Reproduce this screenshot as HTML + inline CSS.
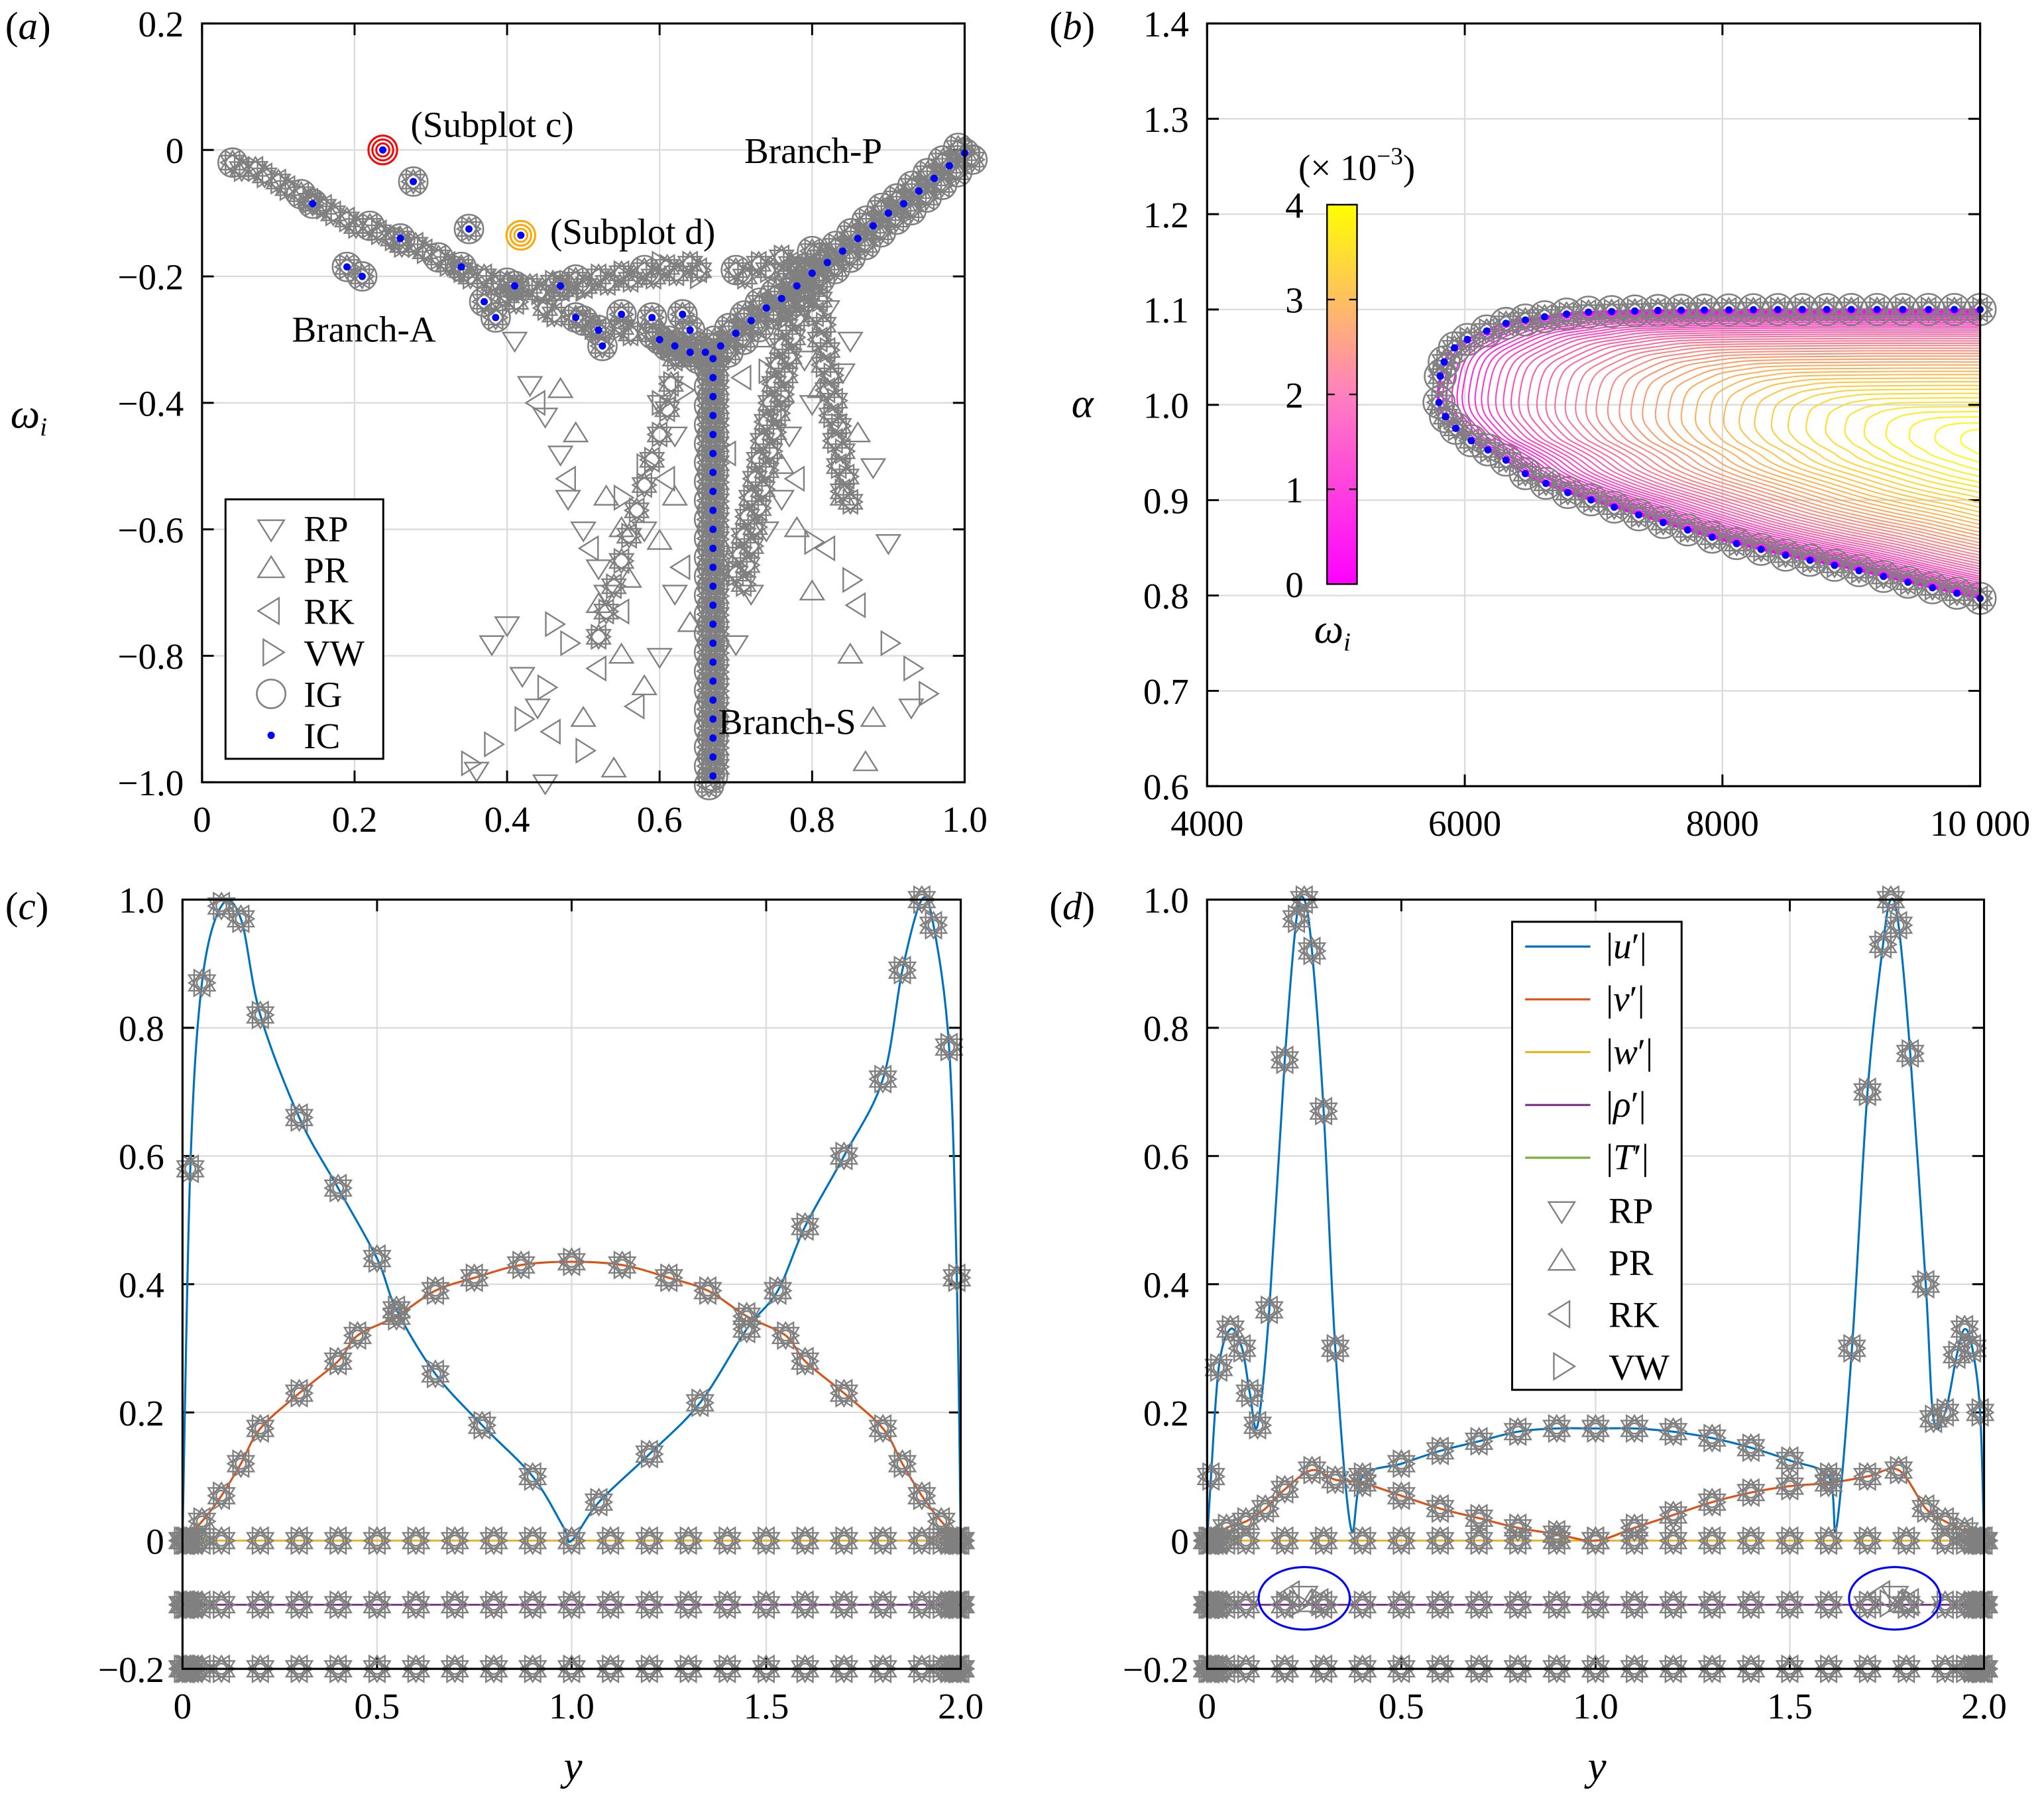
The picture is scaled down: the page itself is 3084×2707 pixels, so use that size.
<!DOCTYPE html>
<html><head><meta charset="utf-8">
<style>
html,body{margin:0;padding:0;background:#fff;}
svg{display:block;font-family:"Liberation Serif",serif;}
</style></head>
<body>
<svg id="fig" xmlns="http://www.w3.org/2000/svg" width="3084" height="2707" viewBox="0 0 1568 1376" preserveAspectRatio="none">
<defs>
<linearGradient id="spring" x1="0" y1="1" x2="0" y2="0">
<stop offset="0" stop-color="#ff00ff"/><stop offset="0.5" stop-color="#ff80bf"/><stop offset="1" stop-color="#ffff00"/>
</linearGradient>
<clipPath id="clipB"><rect x="926" y="18" width="593" height="585"/></clipPath>
</defs>
</svg>
<script>
// ---------- DATA ----------
// Panel (a): IC (blue dots)
const icBranchPx=[0.60,0.62,0.64,0.66,0.68,0.70,0.72,0.74,0.76,0.78,0.80,0.82,0.84,0.86,0.88,0.90,0.92,0.94,0.96,0.98,1.0];
const icBranchPy=[-0.30,-0.31,-0.32,-0.32,-0.31,-0.29,-0.27,-0.25,-0.235,-0.215,-0.195,-0.178,-0.16,-0.14,-0.12,-0.10,-0.085,-0.065,-0.045,-0.025,-0.005];
const icBranchSy=[-0.33,-0.36,-0.39,-0.42,-0.45,-0.48,-0.51,-0.54,-0.57,-0.60,-0.63,-0.66,-0.69,-0.72,-0.75,-0.78,-0.81,-0.84,-0.87,-0.90,-0.93,-0.96,-0.99];
const icBranchSx=0.67;
const icAx=[0.277,0.145,0.19,0.21,0.35,0.34,0.37,0.385,0.41,0.47,0.49,0.52,0.525,0.26,0.55,0.59,0.63,0.64];
const icAy=[-0.05,-0.085,-0.185,-0.20,-0.125,-0.185,-0.24,-0.265,-0.215,-0.215,-0.265,-0.285,-0.31,-0.14,-0.26,-0.265,-0.26,-0.285];
// branch-A arc (all triangle solvers)
const arcX=[0.04,0.07,0.10,0.13,0.16,0.19,0.22,0.25,0.28,0.31,0.34,0.37,0.40,0.43,0.46,0.49,0.52,0.55,0.58,0.61,0.64,0.70,0.73,0.76,0.80,0.40,0.45,0.50,0.55,0.60];
const arcY=[-0.02,-0.03,-0.05,-0.07,-0.09,-0.11,-0.12,-0.14,-0.15,-0.17,-0.19,-0.20,-0.21,-0.215,-0.21,-0.205,-0.20,-0.195,-0.19,-0.185,-0.18,-0.19,-0.18,-0.17,-0.16,-0.23,-0.25,-0.27,-0.28,-0.30];
// dense legs of spurious modes
const legRX=[0.78,0.775,0.77,0.765,0.76,0.755,0.75,0.745,0.74,0.735,0.73,0.725,0.72,0.715,0.71,0.705,0.70,0.80,0.805,0.81,0.815,0.82,0.825,0.83,0.835,0.84];
const legRY=[-0.19,-0.22,-0.25,-0.28,-0.31,-0.34,-0.37,-0.40,-0.43,-0.46,-0.49,-0.52,-0.55,-0.58,-0.61,-0.64,-0.67,-0.22,-0.26,-0.30,-0.34,-0.38,-0.42,-0.46,-0.50,-0.54];
const legLX=[0.62,0.615,0.61,0.60,0.59,0.58,0.57,0.56,0.55,0.54,0.53,0.52];
const legLY=[-0.33,-0.37,-0.41,-0.45,-0.49,-0.53,-0.57,-0.61,-0.65,-0.69,-0.73,-0.77];
// scattered spurious eigenvalues
const rpX=[0.41,0.43,0.45,0.47,0.48,0.50,0.52,0.53,0.40,0.38,0.42,0.44,0.20,0.36,0.45,0.60,0.62,0.58,0.62,0.60,0.80,0.77,0.76,0.74,0.72,0.70,0.93,0.85,0.84,0.82,0.88,0.90,0.79,0.83];
const rpY=[-0.30,-0.37,-0.42,-0.48,-0.55,-0.60,-0.66,-0.70,-0.75,-0.78,-0.83,-0.88,-0.92,-0.98,-1.0,-0.40,-0.45,-0.60,-0.70,-0.80,-0.40,-0.45,-0.55,-0.60,-0.70,-0.78,-0.88,-0.30,-0.35,-0.25,-0.50,-0.62,-0.33,-0.43];
const prX=[0.53,0.55,0.52,0.55,0.58,0.50,0.54,0.47,0.88,0.87,0.85,0.80,0.78,0.76,0.84,0.86,0.62,0.60,0.64,0.49,0.56,0.73,0.81];
const prY=[-0.55,-0.60,-0.72,-0.80,-0.85,-0.90,-0.98,-0.38,-0.90,-0.97,-0.80,-0.70,-0.60,-0.50,-0.55,-0.45,-0.55,-0.62,-0.75,-0.45,-0.68,-0.30,-0.38];
const rkX=[0.44,0.48,0.51,0.55,0.57,0.61,0.63,0.75,0.78,0.82,0.86,0.71,0.69,0.46,0.52];
const rkY=[-0.40,-0.52,-0.63,-0.73,-0.88,-0.52,-0.66,-0.42,-0.52,-0.63,-0.72,-0.36,-0.48,-0.92,-0.82];
const vwX=[0.46,0.48,0.38,0.45,0.50,0.55,0.58,0.60,0.63,0.93,0.95,0.90,0.85,0.80,0.76,0.74,0.55,0.60,0.65,0.50,0.42,0.35];
const vwY=[-0.75,-0.78,-0.94,-0.85,-0.95,-0.55,-0.50,-0.40,-0.38,-0.82,-0.86,-0.78,-0.68,-0.62,-0.40,-0.35,-0.20,-0.18,-0.20,-0.22,-0.90,-0.97];
// Panel (b): neutral curve
const neutX=[10000,9500,9000,8500,8000,7600,7200,6800,6500,6320,6150,6000,5880,5810,5790,5810,5840,5900,6025,6300,6600,6900,7500,8500,10000];
const neutA=[0.797,0.812,0.828,0.842,0.858,0.874,0.891,0.908,0.925,0.942,0.955,0.966,0.982,0.995,1.010,1.030,1.045,1.058,1.069,1.085,1.092,1.097,1.099,1.100,1.100];
const contourLevels=[0,0.09,0.19,0.28,0.37,0.47,0.56,0.65,0.74,0.84,0.93,1.02,1.12,1.21,1.30,1.40,1.49,1.58,1.67,1.77,1.86,1.95,2.05,2.14,2.23,2.33,2.42,2.51,2.60,2.70,2.79,2.88,2.98,3.07,3.16,3.26,3.35,3.44,3.53,3.63,3.72,3.81,3.91,4.0];
const contourNose=[5800,5830,5860,5900,5940,5980,6030,6080,6130,6180,6240,6300,6360,6420,6490,6560,6630,6700,6780,6860,6940,7020,7110,7200,7290,7380,7480,7580,7680,7790,7900,8010,8130,8250,8380,8510,8650,8800,8950,9100,9270,9450,9650,9850];
const cbarTicks=[0,1,2,3,4];
// Panel (c)
const cuY=[0,0.02,0.05,0.10,0.15,0.20,0.30,0.40,0.50,0.55,0.65,0.77,0.90,0.98,1.0,1.07,1.20,1.33,1.45,1.53,1.60,1.70,1.80,1.85,1.90,1.93,1.97,1.99,2.0];
const cuV=[0,0.58,0.87,0.99,0.97,0.82,0.66,0.55,0.44,0.36,0.26,0.18,0.10,0.02,0,0.06,0.135,0.215,0.33,0.39,0.49,0.60,0.72,0.89,1.0,0.96,0.77,0.41,0];
const cvY=[0,0.05,0.10,0.15,0.20,0.30,0.40,0.45,0.55,0.65,0.75,0.87,1.0,1.13,1.25,1.35,1.45,1.55,1.60,1.70,1.80,1.85,1.90,1.95,2.0];
const cvV=[0,0.03,0.07,0.12,0.175,0.23,0.28,0.32,0.35,0.39,0.41,0.43,0.435,0.43,0.41,0.39,0.35,0.32,0.28,0.23,0.175,0.12,0.07,0.03,0];
const rowY=[0,0.005,0.01,0.02,0.03,0.05,0.1,0.2,0.3,0.4,0.5,0.6,0.7,0.8,0.9,1.0,1.1,1.2,1.3,1.4,1.5,1.6,1.7,1.8,1.9,1.95,1.97,1.98,1.99,1.995,2.0];
const rowW=0, rowRho=-0.1, rowT=-0.2;
// Panel (d)
const duY=[0,0.01,0.03,0.06,0.09,0.11,0.13,0.16,0.20,0.23,0.25,0.27,0.30,0.33,0.37,0.40,0.50,0.60,0.70,0.80,0.90,1.0,1.1,1.2,1.3,1.4,1.5,1.6,1.62,1.66,1.70,1.74,1.76,1.78,1.81,1.85,1.87,1.90,1.93,1.95,1.97,1.99,2.0];
const duV=[0,0.10,0.27,0.33,0.30,0.23,0.18,0.36,0.75,0.97,1.0,0.92,0.67,0.30,0.02,0.10,0.12,0.14,0.155,0.17,0.175,0.175,0.175,0.17,0.16,0.145,0.125,0.10,0.02,0.30,0.70,0.93,1.0,0.96,0.76,0.40,0.19,0.20,0.29,0.33,0.30,0.20,0];
const dvY=[0,0.05,0.10,0.15,0.20,0.27,0.33,0.40,0.50,0.60,0.70,0.80,0.90,1.0,1.1,1.2,1.3,1.4,1.5,1.6,1.7,1.78,1.85,1.90,1.95,2.0];
const dvV=[0,0.02,0.03,0.05,0.08,0.11,0.095,0.09,0.07,0.05,0.035,0.02,0.01,0,0.02,0.04,0.06,0.075,0.085,0.09,0.10,0.11,0.05,0.03,0.015,0];
const ellipseY=[0.25,1.77];
const ellipseV=[-0.09,-0.09];

// ---------- DRAWING ----------
const NS='http://www.w3.org/2000/svg';
const svg=document.getElementById('fig');
function mk(tag,attrs,parent){const e=document.createElementNS(NS,tag);for(const k in attrs)e.setAttribute(k,attrs[k]);(parent||svg).appendChild(e);return e;}
const GRAY='#808080';
function axisFns(d0,d1,p0,p1){return v=>p0+(v-d0)/(d1-d0)*(p1-p0);}

function drawAxes(name,sx,sy,xr,yr,xt,xl,yt,yl){
  const g=mk('g',{});
  
  
  const X0=sx(xr[0]),X1=sx(xr[1]),Y0=sy(yr[0]),Y1=sy(yr[1]);
  xt.forEach((t,i)=>{
    const gl=mk('line',{x1:sx(t),x2:sx(t),y1:Y0,y2:Y1,stroke:'#dcdcdc','stroke-width':1.2},g);
    
    
    mk('line',{x1:sx(t),x2:sx(t),y1:Y0,y2:Y0-9,stroke:'#000','stroke-width':1.5},g);
    mk('line',{x1:sx(t),x2:sx(t),y1:Y1,y2:Y1+9,stroke:'#000','stroke-width':1.5},g);
    const tx=mk('text',{x:sx(t),y:Y0+38,'font-size':28,'text-anchor':'middle'},g);
    tx.textContent=xl[i];
    
    
  });
  yt.forEach((t,i)=>{
    const gl=mk('line',{x1:X0,x2:X1,y1:sy(t),y2:sy(t),stroke:'#dcdcdc','stroke-width':1.2},g);
    
    
    mk('line',{x1:X0,x2:X0+9,y1:sy(t),y2:sy(t),stroke:'#000','stroke-width':1.5},g);
    mk('line',{x1:X1,x2:X1-9,y1:sy(t),y2:sy(t),stroke:'#000','stroke-width':1.5},g);
    const tx=mk('text',{x:X0-14,y:sy(t)+10,'font-size':28,'text-anchor':'end'},g);
    tx.textContent=yl[i];
    
    
  });
}
function drawFrame(name,x,y,w,h){
  const fr=mk('rect',{x:x,y:y,width:w,height:h,fill:'none',stroke:'#000','stroke-width':1.6});
  
  
}
function tri(g,type,x,y,s){
  let p;
  if(type==='RP')p=[[x-s,y-0.6*s],[x+s,y-0.6*s],[x,y+s]];
  else if(type==='PR')p=[[x-s,y+0.6*s],[x+s,y+0.6*s],[x,y-s]];
  else if(type==='RK')p=[[x+0.6*s,y-s],[x+0.6*s,y+s],[x-s,y]];
  else p=[[x-0.6*s,y-s],[x-0.6*s,y+s],[x+s,y]];
  return mk('polygon',{points:p.map(q=>q.join(',')).join(' '),fill:'none',stroke:GRAY,'stroke-width':1.2},g);
}
function star(g,x,y,s,circ){
  ['RP','PR','RK','VW'].forEach(t=>{const m=tri(g,t,x,y,s);
    
    });
  if(circ){const c=mk('circle',{cx:x,cy:y,r:circ,fill:'none',stroke:GRAY,'stroke-width':1.3},g);
    
    }
}
function dot(g,x,y){const c=mk('circle',{cx:x,cy:y,r:2.8,fill:'#0000ff'},g);
  
  }
function text(str,x,y,size,opts){const t=mk('text',Object.assign({x:x,y:y,'font-size':size},opts||{}));t.innerHTML=str;return t;}
function smoothPath(pts){
  let d='M'+pts[0][0]+','+pts[0][1];
  for(let i=0;i<pts.length-1;i++){
    const p0=pts[Math.max(0,i-1)],p1=pts[i],p2=pts[i+1],p3=pts[Math.min(pts.length-1,i+2)];
    const c1=[p1[0]+(p2[0]-p0[0])/6,p1[1]+(p2[1]-p0[1])/6],c2=[p2[0]-(p3[0]-p1[0])/6,p2[1]-(p3[1]-p1[1])/6];
    d+=' C'+c1.join(',')+' '+c2.join(',')+' '+p2.join(',');
  }
  return d;
}

// ===== Panel a =====
{
const sx=axisFns(0,1,155,740), sy=axisFns(-1,0.2,600,18);
drawAxes('panel-a',sx,sy,[0,1],[-1,0.2],[0,0.2,0.4,0.6,0.8,1.0],['0','0.2','0.4','0.6','0.8','1.0'],
  [0.2,0,-0.2,-0.4,-0.6,-0.8,-1.0],['0.2','0','−0.2','−0.4','−0.6','−0.8','−1.0']);
const g=mk('g',{});


rpX.forEach((v,i)=>{const m=tri(g,'RP',sx(v),sy(rpY[i]),9);});
prX.forEach((v,i)=>{const m=tri(g,'PR',sx(v),sy(prY[i]),9);});
rkX.forEach((v,i)=>{const m=tri(g,'RK',sx(v),sy(rkY[i]),9);});
vwX.forEach((v,i)=>{const m=tri(g,'VW',sx(v),sy(vwY[i]),9);});
legRX.forEach((v,i)=>{star(g,sx(v),sy(legRY[i]),9,0);star(g,sx(v)+6,sy(legRY[i])+8,9,0);});
legLX.forEach((v,i)=>{star(g,sx(v),sy(legLY[i]),9,0);});
arcX.forEach((v,i)=>{star(g,sx(v),sy(arcY[i]),9,i%3===0?11:0);star(g,sx(v)+7,sy(arcY[i])+5,9,0);});
icBranchPx.forEach((v,i)=>{star(g,sx(v),sy(icBranchPy[i]),9,11);star(g,sx(v)+6,sy(icBranchPy[i])+5,9,11);star(g,sx(v)-5,sy(icBranchPy[i])-4,9,11);});
icBranchSy.forEach(v=>{star(g,sx(icBranchSx),sy(v),9,11);star(g,sx(icBranchSx)-3,sy(v)+7,9,11);star(g,sx(icBranchSx)+3,sy(v)-7,9,0);});
icAx.forEach((v,i)=>star(g,sx(v),sy(icAy[i]),9,11));
icBranchPx.forEach((v,i)=>dot(g,sx(v),sy(icBranchPy[i])));
icBranchSy.forEach(v=>dot(g,sx(icBranchSx),sy(v)));
icAx.forEach((v,i)=>dot(g,sx(v),sy(icAy[i])));
[[0.237,0,'#ff0000'],[0.418,-0.135,'#ffa500']].forEach(h=>{
  [11,8,5].forEach(r=>{const c=mk('circle',{cx:sx(h[0]),cy:sy(h[1]),r:r,fill:'none',stroke:h[2],'stroke-width':1.5},g);
    });
  dot(g,sx(h[0]),sy(h[1]));
});
drawFrame('panel-a',155,18,585,582);
let t;
t=text('(Subplot c)',315,105,28);
t=text('(Subplot d)',422,187,28);
t=text('Branch-P',571,125,28);
t=text('Branch-A',224,262,28);
t=text('Branch-S',551,563,28);
const lg=mk('g',{});


mk('rect',{x:173,y:383,width:121,height:199,fill:'#fff',stroke:'#000','stroke-width':1.5},lg);
['RP','PR','RK','VW','IG','IC'].forEach((n,i)=>{
  const y=405+i*31.8;
  if(i<4){tri(lg,n,208,y,10);} else if(n==='IG'){mk('circle',{cx:208,cy:y,r:11,fill:'none',stroke:GRAY,'stroke-width':1.3},lg);} else dot(lg,208,y);
  const tt=mk('text',{x:233,y:y+10,'font-size':28},lg);tt.textContent=n;
  
  
});
t=text('(<tspan font-style="italic">a</tspan>)',4,30,30);
t=text('<tspan font-style="italic">ω</tspan><tspan font-style="italic" font-size="20" dy="6">i</tspan>',8,328,32);
}

// ===== Panel b =====
{
const sx=axisFns(4000,10000,926,1519), sy=axisFns(0.6,1.4,603,18);
drawAxes('panel-b',sx,sy,[4000,10000],[0.6,1.4],[4000,6000,8000,10000],['4000','6000','8000','10 000'],
  [0.6,0.7,0.8,0.9,1.0,1.1,1.2,1.3,1.4],['0.6','0.7','0.8','0.9','1.0','1.1','1.2','1.3','1.4']);
const g=mk('g',{'clip-path':'url(#clipB)'});


const maxL=contourLevels[contourLevels.length-1];
const XC=10500, AC=0.955;
for(let k=contourLevels.length-1;k>=0;k--){
  const f=contourLevels[k]/maxL, s=(XC-contourNose[k])/(XC-5790);
  const pts=neutX.map((x,i)=>[sx(XC+(x-XC)*s), sy(AC+(neutA[i]-AC)*s)]);
  const col='rgb(255,'+Math.round(255*f)+','+Math.round(255*(1-f))+')';
  const p=mk('path',{d:smoothPath(pts),fill:'none',stroke:col,'stroke-width':1},g);
  
  
}
const np=mk('path',{d:smoothPath(neutX.map((x,i)=>[sx(x),sy(neutA[i])])),fill:'none',stroke:'#ff00ff','stroke-width':1.6},g);


const mg=mk('g',{});


const upper=neutX.slice(14), upperA=neutA.slice(14), lower=neutX.slice(0,15).reverse(), lowerA=neutA.slice(0,15).reverse();
function interp(xs,as,x){for(let i=0;i<xs.length-1;i++){const a=Math.min(xs[i],xs[i+1]),b=Math.max(xs[i],xs[i+1]);if(x>=a&&x<=b){const t=(x-xs[i])/((xs[i+1]-xs[i])||1);return as[i]+t*(as[i+1]-as[i]);}}return as[as.length-1];}
const mxU=[5810,5840,5920,6020,6170,6320,6470,6620,6790,6960,7140,7320,7500,7680,7860,8050,8240,8430,8620,8810,9000,9200,9400,9600,9800,10000];
const mxL=[5800,5850,5930,6050,6180,6320,6470,6630,6800,6980,7160,7350,7540,7730,7920,8110,8300,8490,8680,8870,9060,9250,9440,9630,9820,10000];
mxU.forEach(x=>star(mg,sx(x),sy(interp(upper,upperA,x)),9,12));
mxL.forEach(x=>star(mg,sx(x),sy(interp(lower,lowerA,x)),9,12));
mxU.forEach(x=>dot(mg,sx(x),sy(interp(upper,upperA,x))));
mxL.forEach(x=>dot(mg,sx(x),sy(interp(lower,lowerA,x))));
drawFrame('panel-b',926,18,593,585);
const cb=mk('rect',{x:1018,y:157,width:23,height:291,fill:'url(#spring)',stroke:'#000','stroke-width':1.2});


const cs=axisFns(0,4,448,157);
cbarTicks.forEach(v=>{
  mk('line',{x1:1018,x2:1024,y1:cs(v),y2:cs(v),stroke:'#000','stroke-width':1.2});
  mk('line',{x1:1041,x2:1035,y1:cs(v),y2:cs(v),stroke:'#000','stroke-width':1.2});
  const tt=text(String(v),1000,cs(v)+10,28,{'text-anchor':'end'});
  
  
});
let t;
t=text('(× 10<tspan font-size="19" dy="-12">−3</tspan><tspan dy="12">)</tspan>',996,138,28);
t=text('<tspan font-style="italic">ω</tspan><tspan font-style="italic" font-size="20" dy="6">i</tspan>',1008,493,32);
t=text('(<tspan font-style="italic">b</tspan>)',805,30,30);
t=text('<tspan font-style="italic">α</tspan>',822,320,32);
}

// ===== Panels c, d =====
function profilePanel(name,px0,px1,uY,uV,vY,vV,lab,labX){
  const sx=axisFns(0,2,px0,px1), sy=axisFns(-0.2,1.0,1280,690);
  drawAxes(name,sx,sy,[0,2],[-0.2,1.0],[0,0.5,1.0,1.5,2.0],['0','0.5','1.0','1.5','2.0'],
    [-0.2,0,0.2,0.4,0.6,0.8,1.0],['−0.2','0','0.2','0.4','0.6','0.8','1.0']);
  const g=mk('g',{});
  
  
  [[rowT,'#77ac30','t-prime-line'],[rowRho,'#7e2f8e','rho-prime-line'],[rowW,'#edb120','w-prime-line']].forEach(r=>{
    const l=mk('line',{x1:sx(0),x2:sx(2),y1:sy(r[0]),y2:sy(r[0]),stroke:r[1],'stroke-width':1.5},g);
    
    
  });
  const pv=mk('path',{d:smoothPath(vY.map((y,i)=>[sx(y),sy(vV[i])])),fill:'none',stroke:'#d95319','stroke-width':1.6},g);
  
  
  const pu=mk('path',{d:smoothPath(uY.map((y,i)=>[sx(y),sy(uV[i])])),fill:'none',stroke:'#0072bd','stroke-width':1.6},g);
  
  
  const mg=mk('g',{});
  
  
  [rowW,rowRho,rowT].forEach(v=>rowY.forEach(y=>star(mg,sx(y),sy(v),10,4)));
  vY.forEach((y,i)=>{if(y>0&&y<2)star(mg,sx(y),sy(vV[i]),10,4);});
  uY.forEach((y,i)=>{if(y>0&&y<2&&uV[i]>0.05)star(mg,sx(y),sy(uV[i]),10,4);});
  drawFrame(name,px0,690,px1-px0,590);
  let t=text('(<tspan font-style="italic">'+lab+'</tspan>)',labX,705,30);
  
  t=text('<tspan font-style="italic">y</tspan>',(px0+px1)/2-6,1365,32);
  
  return {sx,sy};
}
profilePanel('panel-c',140,737,cuY,cuV,cvY,cvV,'c',4);
{
const d=profilePanel('panel-d',926,1522,duY,duV,dvY,dvV,'d',805);
const eg=mk('g',{});


ellipseY.forEach((y,i)=>{
  const cx=d.sx(y),cy=d.sy(ellipseV[i]);
  ['RK','VW','RP','PR'].forEach((tp,j)=>{const m=tri(eg,tp,cx-10+j*5,cy+(j%2?4:-3),10);});
  ['RK','VW'].forEach(tp=>{const m=tri(eg,tp,cx+12,cy+3,10);});
  const e=mk('ellipse',{cx:cx,cy:cy,rx:35,ry:24,fill:'none',stroke:'#0000ff','stroke-width':1.6},eg);
  
  
});
const lg=mk('g',{});


mk('rect',{x:1160,y:707,width:130,height:359,fill:'#fff',stroke:'#000','stroke-width':1.5},lg);
const lines=[['#0072bd','u'],['#d95319','v'],['#edb120','w'],['#7e2f8e','ρ'],['#77ac30','T']];
lines.forEach((l,i)=>{
  const y=726+i*40.5;
  mk('line',{x1:1170,x2:1220,y1:y,y2:y,stroke:l[0],'stroke-width':1.6},lg);
  const tt=mk('text',{x:1232,y:y+9,'font-size':28},lg);
  tt.innerHTML='|<tspan font-style="italic">'+l[1]+'</tspan>′|';
  
  
});
['RP','PR','RK','VW'].forEach((n,i)=>{
  const y=928+i*40;
  tri(lg,n,1198,y,10);
  const tt=mk('text',{x:1234,y:y+10,'font-size':28},lg);tt.textContent=n;
  
  
});
}
</script>
</body></html>
